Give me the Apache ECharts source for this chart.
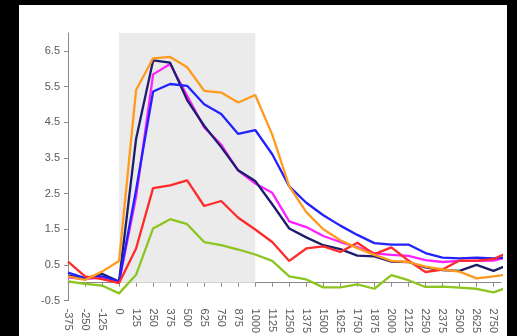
<!DOCTYPE html>
<html>
<head>
<meta charset="utf-8">
<script src="https://cdn.jsdelivr.net/npm/echarts@6/dist/echarts.min.js"></script>
<style>
  html, body { margin: 0; padding: 0; background: #000; width: 517px; height: 336px; overflow: hidden; }
  #panel { position: absolute; left: 19px; top: 5px; width: 488px; height: 331px; background: #fff; }
  #chart { width: 488px; height: 331px; }
</style>
</head>
<body>
<div id="panel"><div id="chart"></div></div>
<script>
// Sample positions along the horizontal axis
const xValues = [-375, -250, -125, 0, 125, 250, 375, 500, 625, 750, 875, 1000, 1125, 1250,
  1375, 1500, 1625, 1750, 1875, 2000, 2125, 2250, 2375, 2500, 2625, 2750, 2875];

// Series values
const navy = [0.2, 0.12, 0.25, 0.03, 4.03, 6.23, 6.17, 5.12, 4.4, 3.8, 3.15, 2.85, 2.2, 1.52,
  1.27, 1.05, 0.94, 0.76, 0.74, 0.59, 0.58, 0.43, 0.35, 0.33, 0.5, 0.33, 0.53];
const blue = [0.28, 0.13, 0.18, 0.03, 2.6, 5.36, 5.57, 5.52, 5.0, 4.73, 4.17, 4.28, 3.6, 2.7,
  2.24, 1.89, 1.6, 1.34, 1.11, 1.07, 1.07, 0.83, 0.7, 0.68, 0.7, 0.68, 0.72];
const magenta = [0.15, 0.1, 0.15, 0.02, 2.4, 5.84, 6.13, 5.24, 4.35, 3.87, 3.14, 2.78, 2.52, 1.72,
  1.56, 1.31, 1.14, 1.0, 0.82, 0.78, 0.75, 0.63, 0.58, 0.61, 0.61, 0.62, 0.74];
const red = [0.59, 0.18, 0.1, -0.01, 0.96, 2.65, 2.73, 2.87, 2.15, 2.29, 1.82, 1.49, 1.14, 0.61,
  0.96, 1.02, 0.86, 1.12, 0.8, 0.99, 0.62, 0.3, 0.37, 0.62, 0.62, 0.66, 0.88];
const orange = [0.18, 0.08, 0.31, 0.61, 5.4, 6.29, 6.33, 6.04, 5.38, 5.33, 5.05, 5.26, 4.15, 2.7,
  1.98, 1.5, 1.19, 0.97, 0.78, 0.61, 0.58, 0.45, 0.37, 0.31, 0.12, 0.18, 0.24];
const green = [0.04, -0.03, -0.08, -0.3, 0.22, 1.52, 1.78, 1.64, 1.14, 1.05, 0.93, 0.79, 0.61, 0.18,
  0.09, -0.13, -0.13, -0.05, -0.17, 0.21, 0.07, -0.12, -0.11, -0.14, -0.17, -0.27, -0.1];

// Tick labels
const xTicks = [-375, -250, -125, 0, 125, 250, 375, 500, 625, 750, 875, 1000, 1125, 1250,
  1375, 1500, 1625, 1750, 1875, 2000, 2125, 2250, 2375, 2500, 2625, 2750];
const yTicks = [-0.5, 0.5, 1.5, 2.5, 3.5, 4.5, 5.5, 6.5];

// Highlighted interval
const shadeRange = [0, 1000];

const pairs = vals => xValues.map((x, i) => [x, vals[i]]);
const FONT = 'Liberation Sans, Arial, sans-serif';

const lineSeries = [
  { name: 'magenta', data: magenta, color: '#ff22ff' },
  { name: 'navy', data: navy, color: '#1d1d6e' },
  { name: 'blue', data: blue, color: '#2222ff' },
  { name: 'red', data: red, color: '#ff2a2a' },
  { name: 'orange', data: orange, color: '#ff9a1e' },
  { name: 'green', data: green, color: '#8cc520' }
].map(s => ({
  type: 'line',
  name: s.name,
  data: pairs(s.data),
  showSymbol: false,
  symbol: 'none',
  clip: true,
  lineStyle: { color: s.color, width: 2.3 },
  itemStyle: { color: s.color },
  z: 3
}));

// Empty carrier series for the shaded band behind the lines
lineSeries.unshift({
  type: 'line',
  name: 'shade',
  data: [],
  markArea: {
    silent: true,
    itemStyle: { color: '#ebebeb' },
    data: [[{ xAxis: shadeRange[0], yAxis: 0 }, { xAxis: shadeRange[1], yAxis: 7 }]]
  },
  z: 1
});

const chart = echarts.init(document.getElementById('chart'), null, { renderer: 'canvas' });
chart.setOption({
  animation: false,
  backgroundColor: '#fff',
  grid: { left: 49, right: 6, top: 28, bottom: 34 },
  xAxis: {
    type: 'value',
    min: -375,
    max: 2805,
    interval: 125,
    axisLine: { onZero: true, lineStyle: { color: '#8a8a8a', width: 1 } },
    axisTick: { show: true, length: 4, customValues: xTicks, lineStyle: { color: '#8a8a8a' } },
    axisLabel: {
      customValues: xTicks,
      rotate: -90,
      margin: 8,
      fontSize: 11,
      fontFamily: FONT,
      color: '#5a5a5a',
      formatter: v => String(v)
    },
    splitLine: { show: false }
  },
  yAxis: {
    type: 'value',
    min: -0.5,
    max: 7,
    axisLine: { show: true, onZero: false, lineStyle: { color: '#8a8a8a', width: 1 } },
    axisTick: { show: true, length: 4, customValues: yTicks, lineStyle: { color: '#8a8a8a' } },
    axisLabel: {
      customValues: yTicks,
      margin: 8,
      fontSize: 11,
      fontFamily: FONT,
      color: '#5a5a5a',
      formatter: v => v.toFixed(1)
    },
    splitLine: { show: false }
  },
  series: lineSeries
});
</script>
</body>
</html>
